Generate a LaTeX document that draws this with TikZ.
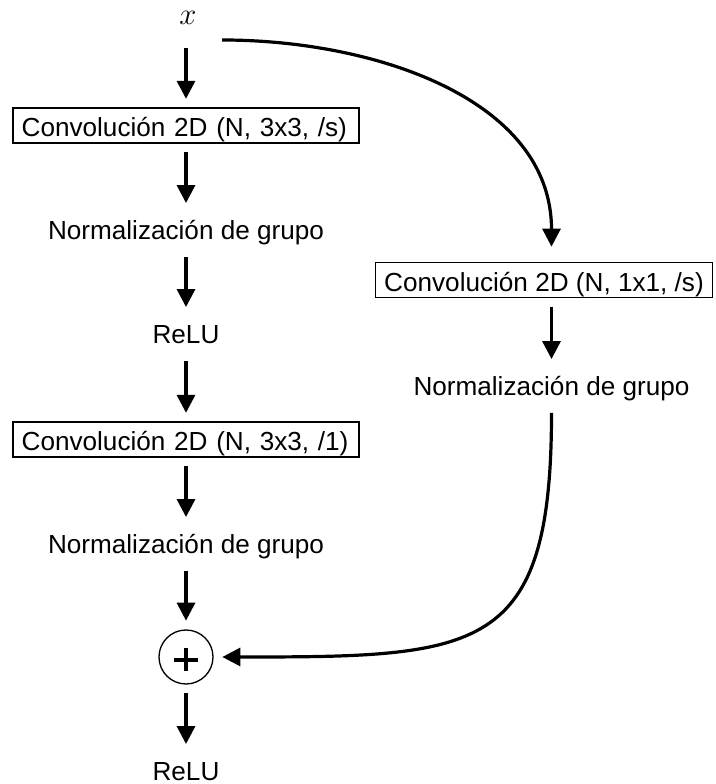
\documentclass[tikz,border=0pt]{standalone}
\usepackage{fix-cm}
\usepackage{fontspec}
\setmainfont{Liberation Sans}
\usetikzlibrary{arrows.meta}

\begin{document}
\begin{tikzpicture}[x=0.75pt,y=0.75pt,
  font=\fontsize{19.6}{23}\selectfont,
  texto/.style={inner xsep=0pt,inner ysep=13pt,text height=14pt,text depth=0pt},
  caja/.style={draw,line width=1.1pt,minimum height=26pt,inner xsep=6.5pt,inner ysep=0pt,text height=16.9pt,text depth=0pt,outer sep=7pt},
  cajaancha/.style={caja,text width=246.5pt,align=left},
  suma/.style={draw,circle,line width=1pt,minimum size=40.5pt,inner sep=0pt,outer sep=7pt,
    path picture={\draw[line width=2.8pt]
      ([xshift=-8.8pt,yshift=-2pt]path picture bounding box.center) -- ([xshift=8.8pt,yshift=-2pt]path picture bounding box.center)
      ([yshift=-10.8pt]path picture bounding box.center) -- ([yshift=6.8pt]path picture bounding box.center);}},
  flecha/.style={line width=2.4pt,-{Triangle[length=13.5pt,width=13.5pt]}}]
  \useasboundingbox (0,0) rectangle (716,784);

  \node[inner sep=0pt,text height=10pt,text depth=0pt,font=\fontsize{23}{27}\selectfont] (x) at (188,766) {$x$};
  \node[cajaancha] (conv1) at (186,658.5) {Convolución 2D (N, 3x3, /s)};
  \node[texto] (norm1) at (186,554) {Normalización de grupo};
  \node[texto] (relu1) at (186,450) {ReLU};
  \node[cajaancha] (conv2) at (186,344.5) {Convolución 2D (N, 3x3, /1)};
  \node[texto] (norm2) at (186,240) {Normalización de grupo};
  \node[suma] (suma) at (186,127) {};
  \node[texto] (relu2) at (186,13) {ReLU};

  \node[caja] (conv3) at (544,504) {Convolución 2D (N, 1x1, /s)};
  \node[texto] (norm3) at (551.5,398) {Normalización de grupo};
  \coordinate (atajo) at (222,744);

  \draw[flecha,shorten <=17pt] (x.south -| conv1.north) -- (conv1);
  \draw[flecha] (conv1) -- (norm1);
  \draw[flecha] (norm1) -- (relu1);
  \draw[flecha] (relu1) -- (conv2);
  \draw[flecha] (conv2) -- (norm2);
  \draw[flecha] (norm2) -- (suma);
  \draw[flecha] (suma) -- (relu2);

  \draw[flecha,shorten >=5pt] (atajo) to[out=0,in=90] (conv3.north -| norm3.north);
  \draw[flecha] (conv3.south -| norm3.north) -- (norm3);
  \draw[flecha] (norm3.south) .. controls +(0,-242) and +(257,0) .. (suma.east);
\end{tikzpicture}
\end{document}
